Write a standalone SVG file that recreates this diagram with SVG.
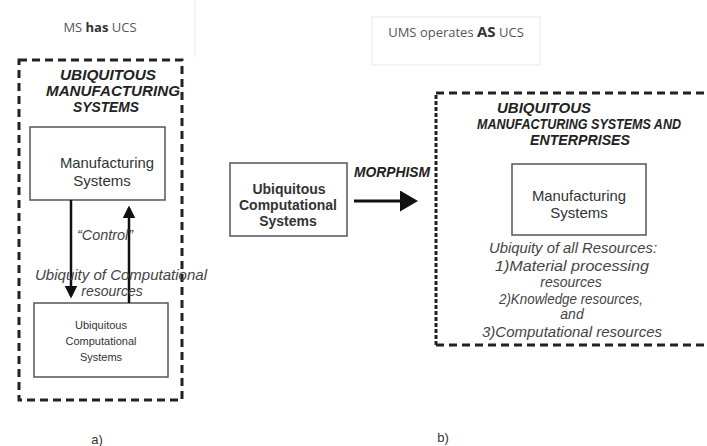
<svg xmlns="http://www.w3.org/2000/svg" width="707" height="446" viewBox="0 0 707 446">
<style>
.t{font-family:"Liberation Sans",Arial,sans-serif;fill:#333}
.hd{font-family:"Open Sans","Liberation Sans",sans-serif;font-size:13px;fill:#555}
.bi{font-weight:bold;font-style:italic;font-size:14px;fill:#222}
.it{font-style:italic;font-size:14px;fill:#444}
.big{font-size:15px}
.box{fill:#fff;stroke:#555;stroke-width:1.5}
.dash{fill:none;stroke:#222;stroke-width:3;stroke-dasharray:8,5}
.faint{fill:none;stroke:#e8e8e8;stroke-width:1}
.ln{stroke:#111;stroke-width:2.5;fill:none}
</style>
<defs>
<marker id="ah" markerWidth="5" markerHeight="5" refX="4" refY="2.5" orient="auto" markerUnits="strokeWidth">
<path d="M0,0 L5,2.5 L0,5 Z" fill="#111"/>
</marker>
<marker id="ahm" markerWidth="6" markerHeight="7" refX="5" refY="3.5" orient="auto" markerUnits="strokeWidth">
<path d="M0,0 L6,3.5 L0,7 Z" fill="#111"/>
</marker>
</defs>
<g id="header-a">
<path class="faint" d="M195,0 V57"/>
<text class="hd" x="100" y="32" text-anchor="middle">MS <tspan font-weight="bold" fill="#333">has</tspan> UCS</text>
</g>
<g id="header-b">
<rect class="faint" x="372" y="17" width="168" height="48"/>
<text class="hd" x="456" y="37" text-anchor="middle">UMS operates <tspan font-weight="bold" fill="#333" style="font-size:15px">AS</tspan> UCS</text>
</g>
<g id="ums-a">
<rect class="dash" x="19" y="60" width="163" height="340"/>
<text class="t bi" x="108" y="80" text-anchor="middle" textLength="96" lengthAdjust="spacingAndGlyphs">UBIQUITOUS</text>
<text class="t bi" x="113" y="96" text-anchor="middle" textLength="134" lengthAdjust="spacingAndGlyphs">MANUFACTURING</text>
<text class="t bi" x="106" y="112" text-anchor="middle" textLength="66" lengthAdjust="spacingAndGlyphs">SYSTEMS</text>
</g>
<g id="ms-a">
<rect class="box" x="30" y="127" width="135" height="73"/>
<text class="t" x="107" y="168" font-size="15" text-anchor="middle" textLength="94" lengthAdjust="spacingAndGlyphs">Manufacturing</text>
<text class="t" x="102" y="186" font-size="15" text-anchor="middle">Systems</text>
</g>
<g id="ucs-a">
<rect class="box" x="34" y="303" width="134" height="74"/>
<text class="t" x="101" y="329" font-size="11" text-anchor="middle">Ubiquitous</text>
<text class="t" x="101" y="345" font-size="11" text-anchor="middle">Computational</text>
<text class="t" x="101" y="361" font-size="11" text-anchor="middle">Systems</text>
</g>
<g id="ucs-mid">
<rect class="box" x="230" y="163" width="117" height="73"/>
<text class="t" x="289" y="194" font-size="14" font-weight="bold" text-anchor="middle" fill="#222">Ubiquitous</text>
<text class="t" x="288" y="210" font-size="14" font-weight="bold" text-anchor="middle" fill="#222">Computational</text>
<text class="t" x="288" y="226" font-size="14" font-weight="bold" text-anchor="middle" fill="#222">Systems</text>
</g>
<g id="ums-b">
<path class="dash" d="M436,93 H707 M436,345 H707"/>
<path d="M436,345 V93" fill="none" stroke="#222" stroke-width="3" stroke-dasharray="4,2"/>
<text class="t bi" x="544" y="113" text-anchor="middle" textLength="94" lengthAdjust="spacingAndGlyphs">UBIQUITOUS</text>
<text class="t bi" x="579" y="129" text-anchor="middle" textLength="204" lengthAdjust="spacingAndGlyphs">MANUFACTURING SYSTEMS AND</text>
<text class="t bi big" x="580" y="145" text-anchor="middle" textLength="100" lengthAdjust="spacingAndGlyphs">ENTERPRISES</text>
</g>
<g id="ms-b">
<rect class="box" x="512" y="164" width="134" height="71"/>
<text class="t" x="579" y="201" font-size="15" text-anchor="middle" textLength="94" lengthAdjust="spacingAndGlyphs">Manufacturing</text>
<text class="t" x="579" y="218" font-size="15" text-anchor="middle">Systems</text>
</g>
<g id="resources-b">
<text class="t it big" x="573" y="253" text-anchor="middle" textLength="168" lengthAdjust="spacingAndGlyphs">Ubiquity of all Resources:</text>
<text class="t it big" x="572" y="271" text-anchor="middle" textLength="154" lengthAdjust="spacingAndGlyphs">1)Material processing</text>
<text class="t it" x="571" y="287" text-anchor="middle">resources</text>
<text class="t it big" x="571" y="304" text-anchor="middle" textLength="144" lengthAdjust="spacingAndGlyphs">2)Knowledge resources,</text>
<text class="t it" x="572" y="319" text-anchor="middle">and</text>
<text class="t it big" x="572" y="337" text-anchor="middle" textLength="180" lengthAdjust="spacingAndGlyphs">3)Computational resources</text>
</g>
<g id="connectors">
<line class="ln" x1="71" y1="200" x2="71" y2="296" marker-end="url(#ah)"/>
<line class="ln" x1="129" y1="303" x2="129" y2="208" marker-end="url(#ah)"/>
<line x1="354" y1="201" x2="415" y2="201" stroke="#111" stroke-width="3" marker-end="url(#ahm)"/>
<text class="t it" x="105" y="240" text-anchor="middle" textLength="56" lengthAdjust="spacingAndGlyphs">“Control”</text>
<text class="t it" x="121" y="280" text-anchor="middle" textLength="172" lengthAdjust="spacingAndGlyphs">Ubiquity of Computational</text>
<text class="t it" x="112" y="296" text-anchor="middle">resources</text>
<text class="t bi" x="392" y="177" text-anchor="middle" textLength="76" lengthAdjust="spacingAndGlyphs">MORPHISM</text>
</g>
<text class="t" x="97" y="444" font-size="13" text-anchor="middle">a)</text>
<text class="t" x="443" y="442" font-size="13" text-anchor="middle">b)</text>
</svg>
